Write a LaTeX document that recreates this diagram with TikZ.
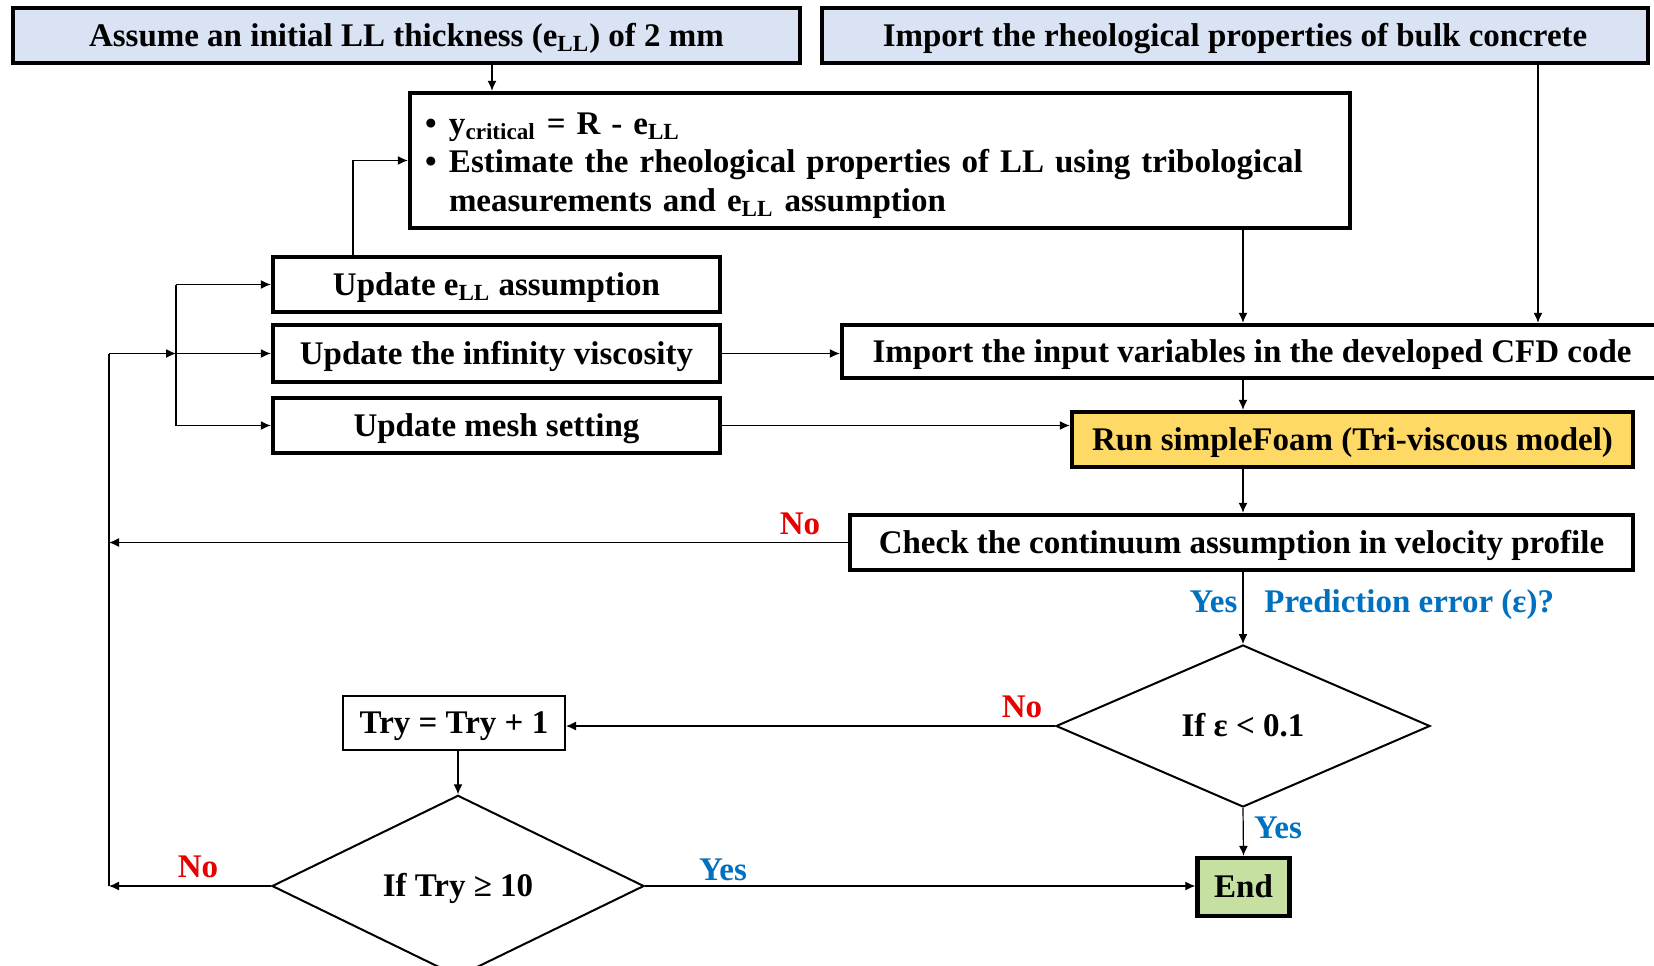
\documentclass[tikz,border=0pt]{standalone}
\usepackage{fontspec}
\setmainfont{Liberation Serif}
\usetikzlibrary{arrows.meta,shapes.geometric,calc}
\definecolor{boxblue}{RGB}{218,227,243}
\definecolor{boxgold}{RGB}{255,217,102}
\definecolor{boxgreen}{RGB}{197,224,160}
\definecolor{lblred}{RGB}{230,0,0}
\definecolor{lblblue}{RGB}{0,112,192}
\tikzset{
 base/.style={font=\fontsize{16.5}{19.25}\selectfont\bfseries, inner sep=0pt},
 oneline/.style={text height=13.2pt, text depth=2.3pt},
 thickbox/.style={base, draw, line width=2.2pt, rectangle, align=center},
 thinbox/.style={base, oneline, draw, line width=1pt, rectangle},
 decision/.style={base, oneline, draw, line width=1pt, diamond, inner sep=0pt},
 conn/.style={line width=0.6pt, -{Latex[length=5pt,width=4.5pt]}},
 plainline/.style={line width=0.6pt},
 yeslbl/.style={base, oneline, text=lblblue},
 nolbl/.style={base, oneline, text=lblred},
}
\begin{document}
\begin{tikzpicture}[x=0.5pt,y=-0.5pt]
\useasboundingbox (0,0) rectangle (1654,965);
\fill[white] (0,0) rectangle (1654,965);

% boxes
\node[thickbox, oneline, fill=boxblue, minimum width=393.5pt, minimum height=27.5pt] (A) at (406.5,35.5)
  {Assume an initial LL thickness (e\textsubscript{LL}) of 2 mm};
\node[thickbox, oneline, fill=boxblue, minimum width=413pt, minimum height=27.5pt] (C) at (1235,35.5)
  {Import the rheological properties of bulk concrete};
\node[thickbox, align=left, text width=455pt, inner xsep=7.5pt, minimum height=67.5pt] (B) at (880,160.5)
  {\rule{0pt}{16pt}\makebox[12pt][l]{•}y\textsubscript{critical} = R - e\textsubscript{LL}\\
   \makebox[12pt][l]{•}Estimate the rheological properties of LL using tribological\\
   \hspace*{12pt}measurements and e\textsubscript{LL} assumption};
\node[thickbox, oneline, minimum width=223.5pt, minimum height=27.5pt] (E) at (496.5,284.5)
  {Update e\textsubscript{LL} assumption};
\node[thickbox, oneline, minimum width=223.5pt, minimum height=28.5pt] (F) at (496.5,353.5)
  {Update the infinity viscosity};
\node[thickbox, oneline, minimum width=223.5pt, minimum height=27.5pt] (G) at (496.5,425.5)
  {Update mesh setting};
\node[thickbox, oneline, minimum width=410pt, minimum height=26.5pt] (D) at (1252,351.5)
  {Import the input variables in the developed CFD code};
\node[thickbox, oneline, fill=boxgold, minimum width=280.5pt, minimum height=27.5pt] (H) at (1352.5,439.5)
  {Run simpleFoam (Tri-viscous model)};
\node[thickbox, oneline, minimum width=391.5pt, minimum height=27.5pt] (I) at (1241.5,542.5)
  {Check the continuum assumption in velocity profile};
\node[decision, minimum width=187pt, minimum height=81pt] (J) at (1243,726) {If ε < 0.1};
\node[thinbox, minimum width=111pt, minimum height=27pt] (K) at (454,723) {Try = Try + 1};
\node[decision, minimum width=186pt, minimum height=80pt] (L) at (458,886) {If Try ≥ 10};
\node[thickbox, oneline, fill=boxgreen, minimum width=46pt, minimum height=29pt] (End) at (1243.5,887) {End};

% helper coordinates
\coordinate (cx) at (1243,0);
\coordinate (cc) at (1538,0);
\coordinate (ca) at (492,0);
\coordinate (ce) at (353,0);
\coordinate (lx) at (109,0);
\coordinate (bx) at (176,0);
\coordinate (jn) at (F.west -| lx);
\coordinate (jb) at (F.west -| bx);

% connectors
\draw[conn] (A.south -| ca) -- (B.north -| ca);
\draw[conn] (E.north -| ce) |- (B.west);
\draw[conn] (B.south -| cx) -- (D.north -| cx);
\draw[conn] (C.south -| cc) -- (D.north -| cc);
\draw[conn] (F.east) -- (F.east -| D.west);
\draw[conn] (G.east) -- (G.east -| H.west);
\draw[conn] (D.south -| cx) -- (H.north -| cx);
\draw[conn] (H.south -| cx) -- (I.north -| cx);
\draw[conn] (I.south -| cx) -- (J.north);
\draw[conn] (I.west) -- (I.west -| lx);
\draw[conn] (J.west) -- (J.west -| K.east);
\draw[conn] (J.south) -- (End.north);
\draw[conn] (K.south -| L.north) -- (L.north);
\draw[conn] (L.west) -- (L.west -| lx);
\draw[conn] (L.east) -- (L.east -| End.west);
\draw[plainline] (jn) -- (L.west -| lx);
\draw[conn] (jn) -- (jb);
\draw[plainline] (E.west -| bx) -- (G.west -| bx);
\draw[conn] (E.west -| bx) -- (E.west);
\draw[conn] (jb) -- (F.west);
\draw[conn] (G.west -| bx) -- (G.west);

% labels
\node[nolbl] (no1) at (800,524) {No};
\node[yeslbl] (yes1) at (1213.5,602) {Yes};
\node[yeslbl, anchor=west] (pe) at (1264,602) {Prediction error (ε)?};
\node[nolbl] (no2) at (1022,707) {No};
\node[yeslbl] (yes2) at (1278,828) {Yes};
\node[nolbl] (no3) at (198,867) {No};
\node[yeslbl] (yes3) at (723,870) {Yes};
\end{tikzpicture}
\end{document}
